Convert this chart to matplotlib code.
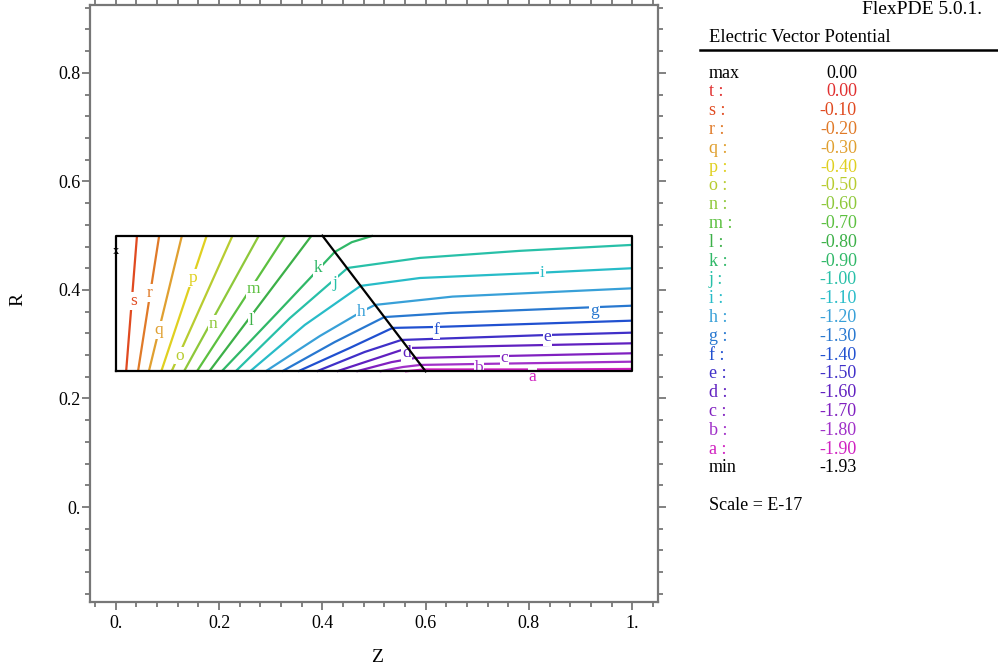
import matplotlib
matplotlib.use("Agg")
import matplotlib.pyplot as plt
from matplotlib.ticker import FixedLocator, MultipleLocator, FixedFormatter

plt.rcParams['font.family'] = ['Liberation Serif', 'DejaVu Serif']

# ---------------- data ----------------
level_names = ['t', 's', 'r', 'q', 'p', 'o', 'n', 'm', 'l', 'k', 'j', 'i',
               'h', 'g', 'f', 'e', 'd', 'c', 'b', 'a']
level_values = ['0.00', '-0.10', '-0.20', '-0.30', '-0.40', '-0.50', '-0.60',
                '-0.70', '-0.80', '-0.90', '-1.00', '-1.10', '-1.20', '-1.30',
                '-1.40', '-1.50', '-1.60', '-1.70', '-1.80', '-1.90']
level_colors = ['#e03030', '#e04a20', '#e07a28', '#e0a030', '#e0d020',
                '#b8cc30', '#8ec83a', '#5cc040', '#3cb048', '#30b868',
                '#28c0a8', '#28bcc8', '#38a0d8', '#2878d0', '#2050d0',
                '#4030c8', '#6020c0', '#8020c0', '#a030c8', '#d020c0']
max_value = '0.00'
min_value = '-1.93'
scale_text = 'Scale = E-17'
title_text = 'Electric Vector Potential'

# contour lines (Z, R)
line_z = {
    's': [0.020, 0.041],
    'r': [0.043, 0.084],
    'q': [0.064, 0.128],
    'p': [0.088, 0.176],
    'o': [0.108, 0.226],
    'n': [0.132, 0.277],
    'm': [0.157, 0.328],
    'l': [0.181, 0.379],
    'k': [0.205, 0.314, 0.424, 0.457, 0.498],
    'j': [0.232, 0.337, 0.449, 0.589, 0.782, 1.0],
    'i': [0.260, 0.366, 0.474, 0.589, 0.807, 1.0],
    'h': [0.290, 0.395, 0.476, 0.502, 0.652, 1.0],
    'g': [0.322, 0.424, 0.520, 0.647, 1.0],
    'f': [0.353, 0.453, 0.536, 0.621, 1.0],
    'e': [0.389, 0.482, 0.553, 0.836, 1.0],
    'd': [0.428, 0.507, 0.565, 0.743, 1.0],
    'c': [0.466, 0.534, 0.580, 0.753, 1.0],
    'b': [0.511, 0.556, 0.590, 0.703, 1.0],
    'a': [0.560, 0.597, 0.820, 1.0],
}
line_r = {
    's': [0.25, 0.50],
    'r': [0.25, 0.50],
    'q': [0.25, 0.50],
    'p': [0.25, 0.50],
    'o': [0.25, 0.50],
    'n': [0.25, 0.50],
    'm': [0.25, 0.50],
    'l': [0.25, 0.50],
    'k': [0.25, 0.359, 0.470, 0.488, 0.50],
    'j': [0.25, 0.348, 0.4405, 0.459, 0.472, 0.483],
    'i': [0.25, 0.3355, 0.4074, 0.422, 0.431, 0.440],
    'h': [0.25, 0.315, 0.360, 0.3724, 0.3877, 0.403],
    'g': [0.25, 0.304, 0.350, 0.3576, 0.371],
    'f': [0.25, 0.293, 0.330, 0.3318, 0.3434],
    'e': [0.25, 0.2857, 0.3078, 0.317, 0.3213],
    'd': [0.25, 0.2747, 0.293, 0.2968, 0.3017],
    'c': [0.25, 0.267, 0.2747, 0.2783, 0.2833],
    'b': [0.25, 0.258, 0.2618, 0.2636, 0.2678],
    'a': [0.25, 0.2535, 0.2535, 0.2544],
}
# label positions on lines
label_pos = {
    's': (0.034, 0.380), 'r': (0.066, 0.394), 'q': (0.084, 0.326),
    'p': (0.150, 0.4215), 'o': (0.123, 0.279), 'n': (0.188, 0.337),
    'm': (0.266, 0.401), 'l': (0.262, 0.343), 'k': (0.392, 0.440),
    'j': (0.424, 0.412), 'i': (0.826, 0.431), 'h': (0.476, 0.360),
    'g': (0.927, 0.361), 'f': (0.621, 0.326), 'e': (0.836, 0.313),
    'd': (0.563, 0.284), 'c': (0.753, 0.275), 'b': (0.703, 0.256),
    'a': (0.807, 0.240),
}
# domain geometry
box_z = [0.0, 1.0, 1.0, 0.0, 0.0]
box_r = [0.25, 0.25, 0.50, 0.50, 0.25]
interface_z = [0.4, 0.6]
interface_r = [0.50, 0.25]

x_ticks = [0.0, 0.2, 0.4, 0.6, 0.8, 1.0]
x_ticklabels = ['0.', '0.2', '0.4', '0.6', '0.8', '1.']
y_ticks = [0.0, 0.2, 0.4, 0.6, 0.8]
y_ticklabels = ['0.', '0.2', '0.4', '0.6', '0.8']

# ---------------- figure ----------------
W, H = 998, 670
fig = plt.figure(figsize=(W / 100, H / 100), dpi=100)
ax = fig.add_axes([90 / W, 1 - 602 / H, (658 - 90) / W, (602 - 5) / H])
ax.set_xlim(-0.05, 1.05)
ax.set_ylim(-0.175, 0.925)

frame_col = '#777777'
for sp in ax.spines.values():
    sp.set_color(frame_col)
    sp.set_linewidth(1.6)

ax.xaxis.set_major_locator(FixedLocator(x_ticks))
ax.xaxis.set_major_formatter(FixedFormatter(x_ticklabels))
ax.yaxis.set_major_locator(FixedLocator(y_ticks))
ax.yaxis.set_major_formatter(FixedFormatter(y_ticklabels))
ax.xaxis.set_minor_locator(MultipleLocator(0.04))
ax.yaxis.set_minor_locator(MultipleLocator(0.04))
ax.tick_params(which='both', direction='out', top=True, right=True,
               labeltop=False, labelright=False, color=frame_col, width=1.3)
ax.tick_params(which='major', length=6, labelsize=13)
ax.tick_params(which='minor', length=3.5)
ax.tick_params(axis='x', which='major', pad=3)
ax.tick_params(axis='y', which='major', pad=0.5)

cmap = dict(zip(level_names, level_colors))
for name in level_names[1:]:
    ax.plot(line_z[name], line_r[name], color=cmap[name], lw=1.6,
            solid_capstyle='butt', zorder=2)
    lz, lr = label_pos[name]
    ax.text(lz, lr, name, color=cmap[name], fontsize=12.5, ha='center',
            va='center', zorder=3,
            bbox=dict(boxstyle='square,pad=0.05', fc='white', ec='none'))

ax.plot(box_z, box_r, color='black', lw=1.6, zorder=4)
ax.plot(interface_z, interface_r, color='black', lw=1.6, zorder=4)
ax.text(0.0, 0.472, 'x', fontsize=9, ha='center', va='center', zorder=5)

fig.text(377 / W, 1 - 657 / H, 'Z', fontsize=14, ha='center', va='center')
fig.text(18 / W, 1 - 300 / H, 'R', rotation=90, fontsize=14,
         ha='center', va='center')

# ---------------- legend panel ----------------
fig.text(862 / W, 1 - 10 / H, 'FlexPDE 5.0.1.', fontsize=14, ha='left',
         va='center')
fig.text(709 / W, 1 - 37 / H, title_text, fontsize=13.3, ha='left',
         va='center')
fig.add_artist(plt.Line2D([700 / W, 1.0], [1 - 50 / H, 1 - 50 / H],
                          color='black', lw=1.8))
row0 = 73.0
dy = 18.8
fs = 13
xl, xr = 709 / W, 857 / W
fig.text(xl, 1 - row0 / H, 'max', fontsize=fs, ha='left', va='center')
fig.text(xr, 1 - row0 / H, max_value, fontsize=fs, ha='right', va='center')
for i, (nm, val, col) in enumerate(zip(level_names, level_values, level_colors)):
    y = 1 - (row0 + dy * (i + 1)) / H
    fig.text(xl, y, nm + ' :', fontsize=fs, ha='left', va='center', color=col)
    fig.text(xr, y, val, fontsize=fs, ha='right', va='center', color=col)
ymin = 1 - (row0 + dy * 21) / H
fig.text(xl, ymin, 'min', fontsize=fs, ha='left', va='center')
fig.text(xr, ymin, min_value, fontsize=fs, ha='right', va='center')
fig.text(xl, 1 - 506 / H, scale_text, fontsize=fs, ha='left', va='center')

fig.savefig('out.png', dpi=100)
